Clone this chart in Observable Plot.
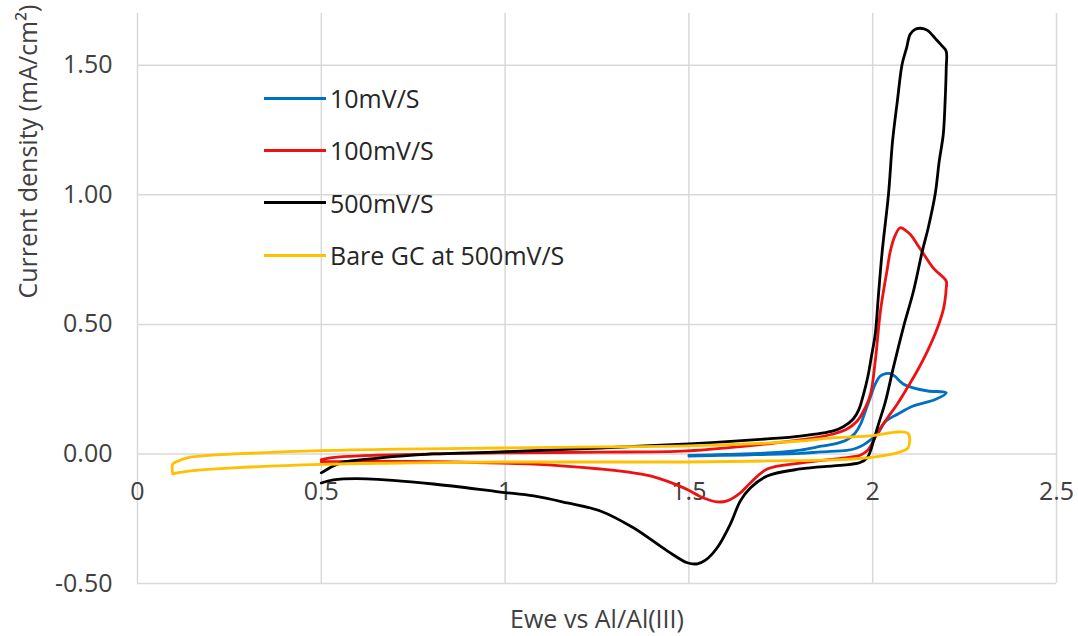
<!DOCTYPE html>
<html>
<head>
<meta charset="utf-8">
<script src="https://cdn.jsdelivr.net/npm/d3@7"></script>
<script src="https://cdn.jsdelivr.net/npm/@observablehq/plot@0.6"></script>
<style>
  body { margin: 0; background: #fff; }
  #wrap { position: relative; width: 1078px; height: 636px; font-family: "Open Sans", sans-serif; }
  #legend { position: absolute; left: 264px; top: 72px; }
  .row { display: flex; align-items: center; height: 52.3px; font-size: 25px; color: #262626; }
  .sw { width: 62px; height: 3px; margin-right: 4px; }
</style>
</head>
<body>
<div id="wrap"></div>
<script>
const seriesNames = ["10mV/S", "100mV/S", "500mV/S", "Bare GC at 500mV/S"];
const seriesColors = ["#0070C0", "#EE1111", "#000000", "#FFC000"];

const xTicks = [0, 0.5, 1, 1.5, 2, 2.5];
const yTicks = [-0.5, 0, 0.5, 1, 1.5];
const xLabel = "Ewe vs Al/Al(III)";
const yLabel = "Current density (mA/cm²)";

// 10mV/S
const blueX = [1.50,1.60,1.713,1.803,1.86,1.90,1.93,1.952,1.967,1.98,1.994,2.007,2.02,2.035,2.048,2.06,2.083,2.11,2.15,2.20,
               2.17,2.11,2.07,2.035,2.013,1.995,1.975,1.955,1.93,1.86,1.803,1.65,1.50];
const blueY = [-0.006,-0.002,0.004,0.015,0.03,0.04,0.055,0.08,0.115,0.165,0.22,0.27,0.30,0.31,0.31,0.30,0.27,0.255,0.243,0.236,
               0.21,0.185,0.155,0.125,0.077,0.055,0.035,0.022,0.014,0.008,0.002,-0.004,-0.008];

// 100mV/S
const redX = [0.50,0.53,0.56,0.65,0.80,0.987,1.259,1.496,1.713,1.803,1.893,1.93,1.958,1.975,1.994,2.007,2.021,2.04,2.048,2.06,2.075,2.09,2.102,2.13,2.165,2.20,
              2.20,2.193,2.176,2.149,2.121,2.094,2.067,2.04,2.016,1.999,1.985,1.966,1.939,1.803,1.713,1.667,1.64,1.604,1.577,1.54,1.486,1.395,1.332,1.259,1.078,0.987,0.805,0.60,0.52,0.50];
const redY = [-0.022,-0.014,-0.01,-0.005,0.0,0.004,0.007,0.012,0.039,0.054,0.077,0.096,0.127,0.165,0.231,0.359,0.551,0.717,0.783,0.84,0.873,0.862,0.848,0.79,0.717,0.667,
              0.64,0.563,0.486,0.397,0.32,0.255,0.193,0.139,0.089,0.042,0.012,-0.005,-0.012,-0.035,-0.058,-0.112,-0.15,-0.181,-0.185,-0.17,-0.131,-0.085,-0.069,-0.058,-0.039,-0.035,-0.03,-0.028,-0.03,-0.03];

// 500mV/S
const blackX = [0.50,0.515,0.533,0.565,0.625,0.715,0.805,0.987,1.259,1.50,1.713,1.803,1.893,1.92,1.947,1.962,1.975,1.987,1.997,2.007,2.016,2.026,2.043,2.054,2.067,2.08,2.092,2.102,2.116,2.13,2.149,2.17,2.19,2.20,
                2.20,2.197,2.192,2.181,2.17,2.151,2.135,2.111,2.083,2.056,2.035,2.016,2.002,1.994,1.985,1.966,1.939,1.893,1.803,1.713,1.667,1.64,1.613,1.577,1.545,1.523,1.496,1.441,1.349,1.259,1.169,1.078,0.987,0.805,0.624,0.533,0.50];
const blackY = [-0.073,-0.06,-0.046,-0.03,-0.02,-0.008,0.0,0.008,0.023,0.039,0.058,0.069,0.089,0.105,0.135,0.17,0.23,0.30,0.38,0.463,0.62,0.784,1.003,1.207,1.361,1.504,1.566,1.62,1.639,1.643,1.635,1.604,1.573,1.554,
                1.489,1.361,1.234,1.13,1.003,0.872,0.783,0.629,0.486,0.332,0.204,0.116,0.05,0.012,-0.015,-0.033,-0.04,-0.046,-0.058,-0.085,-0.131,-0.181,-0.27,-0.362,-0.41,-0.424,-0.42,-0.374,-0.285,-0.22,-0.189,-0.162,-0.147,-0.116,-0.096,-0.1,-0.112];

// Bare GC at 500mV/S
const yellowX = [0.096,0.096,0.111,0.135,0.171,0.261,0.50,0.715,0.987,1.259,1.498,1.713,1.803,1.893,1.985,2.096,
                 2.096,2.083,2.056,1.985,1.893,1.713,1.498,0.987,0.715,0.50,0.261,0.125,0.096];
const yellowY = [-0.077,-0.039,-0.027,-0.015,-0.008,0.0,0.013,0.019,0.023,0.027,0.031,0.042,0.05,0.062,0.069,0.079,
                 0.023,0.012,0.0,-0.015,-0.023,-0.027,-0.031,-0.031,-0.035,-0.04,-0.054,-0.069,-0.077];

const seriesX = [blueX, redX, blackX, yellowX];
const seriesY = [blueY, redY, blackY, yellowY];

const rows = [];
seriesNames.forEach((name, i) => {
  seriesX[i].forEach((x, j) => rows.push({series: name, x, y: seriesY[i][j]}));
});

const textColor = "#404040";
const gridColor = "#d9d9d9";

const chart = Plot.plot({
  width: 1078,
  height: 636,
  marginTop: 13,
  marginBottom: 53,
  marginLeft: 137,
  marginRight: 22,
  style: {fontFamily: "Open Sans, sans-serif", background: "#fff", overflow: "visible"},
  x: {domain: [0, 2.5], axis: null},
  y: {domain: [-0.5, 1.7], axis: null},
  color: {domain: seriesNames, range: seriesColors},
  marks: [
    Plot.ruleX(xTicks, {x: d => d, y1: -0.5, y2: 1.7, stroke: gridColor, strokeWidth: 1.5}),
    Plot.ruleY(yTicks, {y: d => d, x1: 0, x2: 2.5, stroke: gridColor, strokeWidth: 1.5}),
    Plot.axisY({ticks: yTicks, tickSize: 0, tickPadding: 25, fontSize: 25, label: null,
      tickFormat: d => d.toFixed(2), fill: textColor}),
    Plot.text(xTicks, {x: d => d, y: 0, dy: 38, text: d => String(d), fontSize: 25, fill: textColor, lineAnchor: "middle"}),
    ...seriesNames.map(name => Plot.line(rows.filter(r => r.series === name), {
      x: "x", y: "y", stroke: "series", strokeWidth: 2.8, curve: "catmull-rom",
      strokeLinejoin: "round", strokeLinecap: "round"
    })),
    Plot.text([xLabel], {frameAnchor: "bottom", dy: 36, fontSize: 25, fill: textColor, lineAnchor: "middle"}),
    Plot.text([yLabel], {frameAnchor: "left", dx: -109, rotate: -90, fontSize: 25, fill: textColor, lineAnchor: "middle"})
  ]
});

const wrap = document.getElementById("wrap");
wrap.appendChild(chart);

const legend = document.createElement("div");
legend.id = "legend";
seriesNames.forEach((name, i) => {
  const row = document.createElement("div");
  row.className = "row";
  const sw = document.createElement("div");
  sw.className = "sw";
  sw.style.background = seriesColors[i];
  const label = document.createElement("span");
  label.textContent = name;
  row.appendChild(sw);
  row.appendChild(label);
  legend.appendChild(row);
});
wrap.appendChild(legend);
</script>
</body>
</html>
